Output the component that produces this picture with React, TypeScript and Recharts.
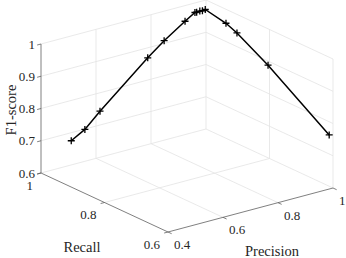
import { ScatterChart, Scatter, XAxis, YAxis, ReferenceLine, ReferenceDot } from "recharts"

// operating points (threshold sweep)
const precision = [0.51, 0.548, 0.603, 0.78, 0.842, 0.918, 0.954, 0.958, 0.966, 0.972, 0.98, 0.993, 0.996, 0.997, 1.0]
const recall = [1.0, 0.99, 0.99, 0.993, 0.995, 0.995, 0.995, 0.993, 0.99, 0.987, 0.985, 0.931, 0.899, 0.802, 0.612]
const f1 = [0.675, 0.706, 0.75, 0.874, 0.912, 0.955, 0.974, 0.975, 0.978, 0.979, 0.982, 0.961, 0.945, 0.889, 0.759]

const pTicks = [0.4, 0.6, 0.8, 1]
const rTicks = [0.6, 0.8, 1]
const zTicks = [0.6, 0.7, 0.8, 0.9, 1]

const W = 346
const H = 258
const P_MIN = 0.4, P_MAX = 1
const R_MIN = 0.6, R_MAX = 1
const Z_MIN = 0.6, Z_MAX = 1

// view projection: screen position of the front-bottom corner and the
// screen vectors spanned by each full axis range
const ORIGIN = [168, 232]
const EP = [165, -44]
const ER = [-127, -59]
const EZ = [0, -129]

function proj(p: number, r: number, z: number) {
  const a = (p - P_MIN) / (P_MAX - P_MIN)
  const b = (r - R_MIN) / (R_MAX - R_MIN)
  const c = (z - Z_MIN) / (Z_MAX - Z_MIN)
  return {
    sx: ORIGIN[0] + a * EP[0] + b * ER[0] + c * EZ[0],
    sy: ORIGIN[1] + a * EP[1] + b * ER[1] + c * EZ[1],
  }
}

const points = precision.map((p, i) => proj(p, recall[i], f1[i]))

type Seg = [{ sx: number; sy: number }, { sx: number; sy: number }]

const grid: Seg[] = []
pTicks.slice(1).forEach((p) => grid.push([proj(p, R_MAX, Z_MIN), proj(p, R_MAX, Z_MAX)]))
rTicks.slice(0, -1).forEach((r) => grid.push([proj(P_MAX, r, Z_MIN), proj(P_MAX, r, Z_MAX)]))
zTicks.forEach((z) => {
  grid.push([proj(P_MIN, R_MAX, z), proj(P_MAX, R_MAX, z)])
  grid.push([proj(P_MAX, R_MAX, z), proj(P_MAX, R_MIN, z)])
})
pTicks.slice(1, -1).forEach((p) => grid.push([proj(p, R_MIN, Z_MIN), proj(p, R_MAX, Z_MIN)]))
rTicks.slice(1, -1).forEach((r) => grid.push([proj(P_MIN, r, Z_MIN), proj(P_MAX, r, Z_MIN)]))

const axes: Seg[] = [
  [proj(P_MIN, R_MAX, Z_MIN), proj(P_MIN, R_MAX, Z_MAX)],
  [proj(P_MIN, R_MIN, Z_MIN), proj(P_MIN, R_MAX, Z_MIN)],
  [proj(P_MIN, R_MIN, Z_MIN), proj(P_MAX, R_MIN, Z_MIN)],
]

// tick marks point outward, along -P (z and recall) and -R (precision)
const TL = 4
const lenP = Math.hypot(EP[0], EP[1])
const lenR = Math.hypot(ER[0], ER[1])
const outP = [(-EP[0] / lenP) * TL, (-EP[1] / lenP) * TL]
const outR = [(-ER[0] / lenR) * TL, (-ER[1] / lenR) * TL]
const tickSeg = (pt: { sx: number; sy: number }, d: number[]): Seg => [pt, { sx: pt.sx + d[0], sy: pt.sy + d[1] }]
zTicks.forEach((z) => axes.push(tickSeg(proj(P_MIN, R_MAX, z), outP)))
rTicks.forEach((r) => axes.push(tickSeg(proj(P_MIN, r, Z_MIN), outP)))
pTicks.forEach((p) => axes.push(tickSeg(proj(p, R_MIN, Z_MIN), outR)))

const FONT = '"Liberation Serif", "DejaVu Serif", serif'
const TXT = "#262626"

type Lab = { x: number; y: number; text: string; anchor: "start" | "middle" | "end"; size: number; rotate?: boolean }
const labels: Lab[] = []
zTicks.forEach((z) => {
  const q = proj(P_MIN, R_MAX, z)
  labels.push({ x: q.sx - 6, y: q.sy, text: String(z), anchor: "end", size: 13 })
})
rTicks.forEach((r) => {
  const q = proj(P_MIN, r, Z_MIN)
  labels.push({ x: q.sx - 8, y: q.sy + 12, text: String(r), anchor: "end", size: 13 })
})
pTicks.forEach((p) => {
  const q = proj(p, R_MIN, Z_MIN)
  labels.push({ x: q.sx + 6, y: q.sy + 12.5, text: String(p), anchor: "start", size: 13 })
})
{
  const zm = proj(P_MIN, R_MAX, (Z_MIN + Z_MAX) / 2)
  labels.push({ x: zm.sx - 30, y: zm.sy + 1.5, text: "F1-score", anchor: "middle", size: 14.5, rotate: true })
  const rm = proj(P_MIN, (R_MIN + R_MAX) / 2, Z_MIN)
  labels.push({ x: rm.sx - 22.5, y: rm.sy + 44.5, text: "Recall", anchor: "middle", size: 14.5 })
  const pm = proj((P_MIN + P_MAX) / 2, R_MIN, Z_MIN)
  labels.push({ x: pm.sx + 21.5, y: pm.sy + 41, text: "Precision", anchor: "middle", size: 14.5 })
}

const Plus = (props: any) => {
  const { cx, cy } = props
  const s = 3.5
  return (
    <path
      d={`M${cx - s},${cy}H${cx + s}M${cx},${cy - s}V${cy + s}`}
      stroke="#000"
      strokeWidth={1.3}
      fill="none"
    />
  )
}

function labelContent(l: Lab) {
  return (props: any) => {
    const vb = props.viewBox || {}
    const x = (vb.x ?? 0) + (vb.width ?? 0) / 2
    const y = (vb.y ?? 0) + (vb.height ?? 0) / 2
    return (
      <text
        x={x}
        y={y}
        textAnchor={l.anchor}
        dominantBaseline="central"
        style={{ fontFamily: FONT, fontSize: l.size }}
        fill={TXT}
        transform={l.rotate ? `rotate(-90 ${x} ${y})` : undefined}
      >
        {l.text}
      </text>
    )
  }
}

export default function App() {
  return (
    <div style={{ position: "absolute", left: 0, top: 0, width: W, height: H, background: "#fff" }}>
      <ScatterChart width={W} height={H} margin={{ top: 0, right: 0, bottom: 0, left: 0 }}>
        <XAxis type="number" dataKey="sx" domain={[0, W]} hide allowDataOverflow />
        <YAxis type="number" dataKey="sy" domain={[0, H]} reversed hide allowDataOverflow />
        {grid.map((g, i) => (
          <ReferenceLine
            key={"g" + i}
            segment={[{ x: g[0].sx, y: g[0].sy }, { x: g[1].sx, y: g[1].sy }]}
            stroke="#e3e3e3"
            strokeWidth={0.8}
          />
        ))}
        {axes.map((g, i) => (
          <ReferenceLine
            key={"a" + i}
            segment={[{ x: g[0].sx, y: g[0].sy }, { x: g[1].sx, y: g[1].sy }]}
            stroke="#606060"
            strokeWidth={0.8}
          />
        ))}
        <Scatter
          data={points}
          line={{ stroke: "#000", strokeWidth: 1.5 }}
          shape={Plus}
          isAnimationActive={false}
        />
        {labels.map((l, i) => (
          <ReferenceDot key={"l" + i} x={l.x} y={l.y} r={0} stroke="none" fill="none" label={labelContent(l)} />
        ))}
      </ScatterChart>
    </div>
  )
}
